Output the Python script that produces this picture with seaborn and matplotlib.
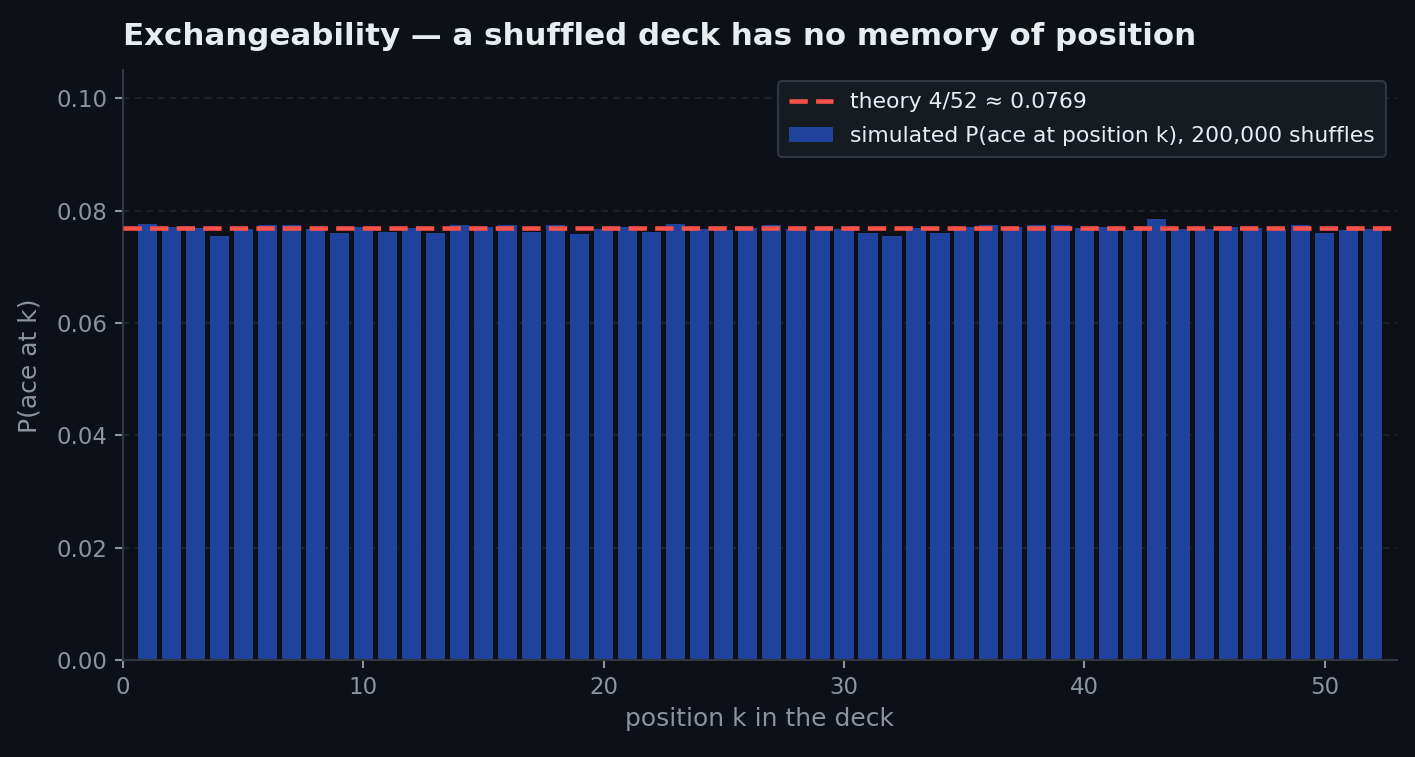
import numpy as np
import pandas as pd
import seaborn as sns
import matplotlib.pyplot as plt
from matplotlib.lines import Line2D
from matplotlib.patches import Patch

# simulated P(ace at position k)
positions = list(range(1, 53))
p_ace = [0.0777, 0.0772, 0.0770, 0.0756, 0.0768, 0.0774, 0.0775, 0.0767, 0.0761, 0.0772,
         0.0763, 0.0770, 0.0761, 0.0774, 0.0772, 0.0774, 0.0763, 0.0774, 0.0758, 0.0768,
         0.0772, 0.0763, 0.0777, 0.0767, 0.0765, 0.0770, 0.0775, 0.0768, 0.0765, 0.0768,
         0.0761, 0.0756, 0.0770, 0.0761, 0.0772, 0.0775, 0.0772, 0.0774, 0.0775, 0.0770,
         0.0772, 0.0765, 0.0786, 0.0768, 0.0768, 0.0772, 0.0770, 0.0767, 0.0774, 0.0761,
         0.0765, 0.0767]
theory = 4 / 52

bg = "#0d1117"
fg = "#e6edf3"
muted = "#8b949e"
spine_col = "#30363d"
bar_col = "#1f429c"
red = "#f85149"
dash = (0, (4, 1.8))

sns.set_theme(style="dark")
plt.rcParams["font.family"] = ["DejaVu Sans"]

df = pd.DataFrame({"k": positions, "p": p_ace})

fig, ax = plt.subplots(figsize=(1415 / 150, 757 / 150), dpi=150)
fig.patch.set_facecolor(bg)
ax.set_facecolor(bg)
fig.subplots_adjust(left=0.087, right=0.987, bottom=0.128, top=0.907)

sns.barplot(data=df, x="k", y="p", native_scale=True, color=bar_col,
            saturation=1, width=0.8, ax=ax, zorder=2, linewidth=0, edgecolor="none")
ax.axhline(theory, color=red, lw=2.2, ls=dash, zorder=3)

ax.set_xlim(0, 53)
ax.set_ylim(0, 0.105)
ax.set_yticks([0.0, 0.02, 0.04, 0.06, 0.08, 0.10])
ax.set_yticklabels(["0.00", "0.02", "0.04", "0.06", "0.08", "0.10"])
ax.set_xticks([0, 10, 20, 30, 40, 50])
ax.set_xticklabels(["0", "10", "20", "30", "40", "50"])

ax.grid(axis="y", color="#21262d", ls=(0, (4, 3)), lw=0.8, zorder=0)
ax.grid(axis="x", visible=False)
for s in ["top", "right"]:
    ax.spines[s].set_visible(False)
for s in ["left", "bottom"]:
    ax.spines[s].set_color(spine_col)
    ax.spines[s].set_linewidth(1.0)
ax.tick_params(colors=muted, labelsize=11, length=4, width=1, left=True, bottom=True)
for t in ax.get_xticklines() + ax.get_yticklines():
    t.set_color(spine_col)

ax.set_xlabel("position k in the deck", color=muted, fontsize=12)
ax.set_ylabel("P(ace at k)", color=muted, fontsize=12, labelpad=7)
ax.set_title("Exchangeability — a shuffled deck has no memory of position",
             loc="left", color=fg, fontsize=14.8, fontweight="bold", pad=12)

handles = [Line2D([0], [0], color=red, lw=2.2, ls=dash),
           Patch(facecolor=bar_col, edgecolor="none")]
labels = ["theory 4/52 ≈ 0.0769",
          "simulated P(ace at position k), 200,000 shuffles"]
leg = ax.legend(handles, labels, loc="upper right", fontsize=10.5,
                labelspacing=0.62, borderpad=0.5,
                facecolor="#161b22", edgecolor=spine_col, framealpha=1)
for t in leg.get_texts():
    t.set_color(fg)

fig.savefig("out.png", dpi=150, facecolor=bg)
